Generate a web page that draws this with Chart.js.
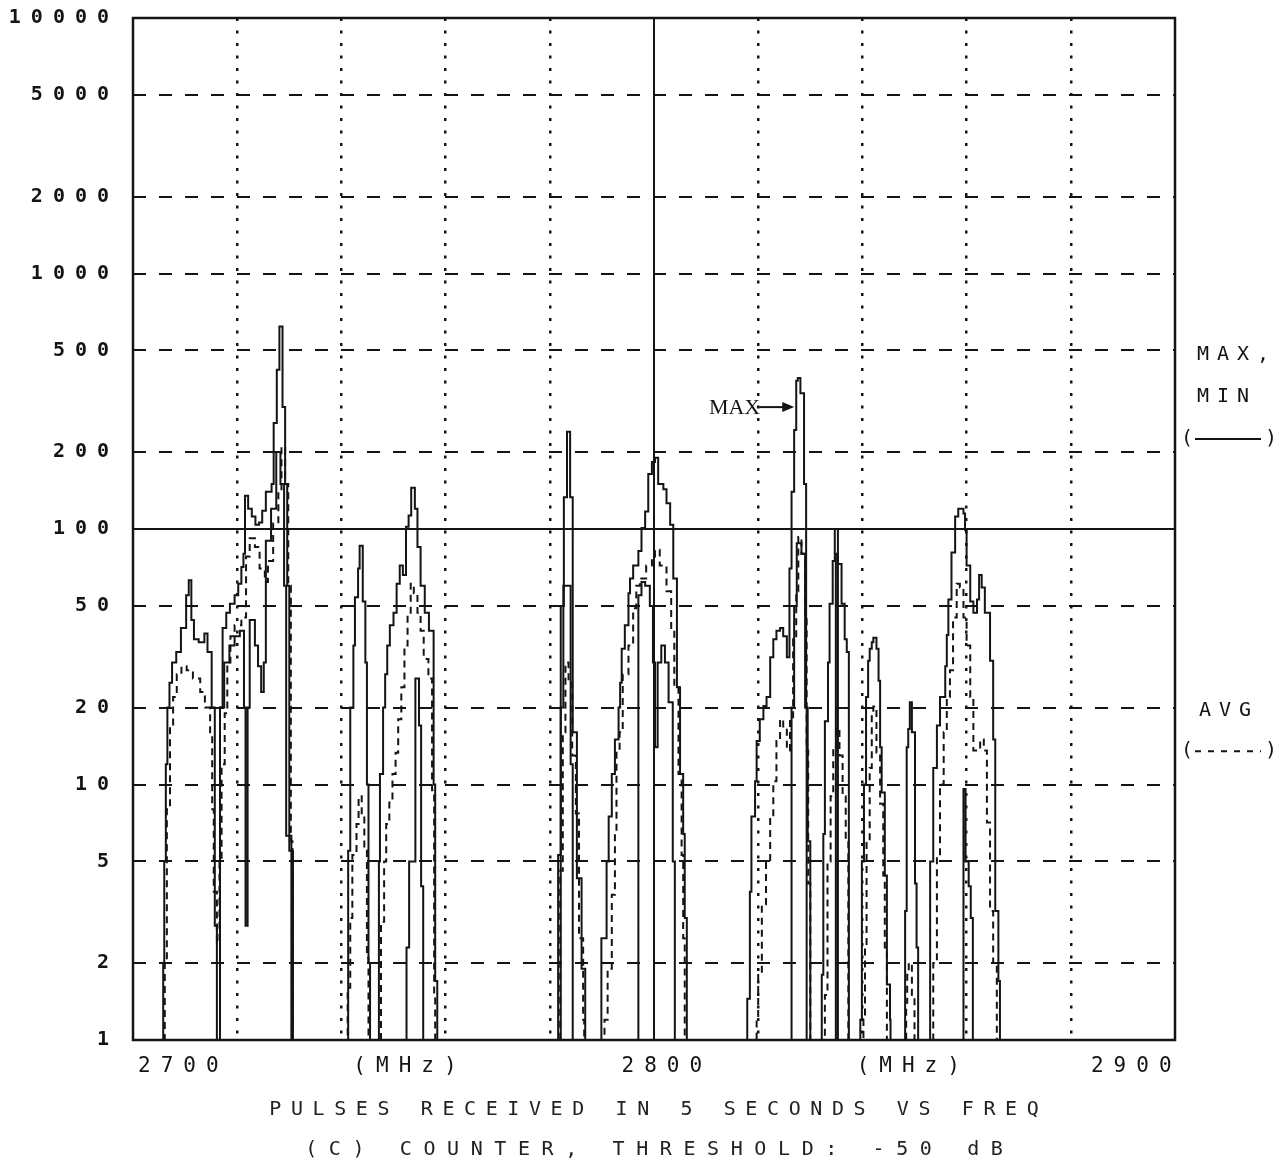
<!DOCTYPE html>
<html>
<head>
<meta charset="utf-8">
<script src="https://cdn.jsdelivr.net/npm/chart.js@4.4.0/dist/chart.umd.min.js"></script>
<style>
  html, body { margin: 0; padding: 0; background: #fff; }
  canvas { display: block; }
</style>
</head>
<body>
<canvas id="grafico" width="1288" height="1169"></canvas>
<script>
// Ejes
const yTicks = [1, 2, 5, 10, 20, 50, 100, 200, 500, 1000, 2000, 5000, 10000];
const xLabels = ['2700', '(MHz)', '2800', '(MHz)', '2900'];
const xLabelAt = [2708.7, 2752.2, 2801.5, 2848.8, 2891.6];
const titulo = ['PULSES RECEIVED IN 5 SECONDS VS FREQ', '(C) COUNTER, THRESHOLD: -50 dB'];

// Trazas [MHz, pulsos] (escalon: el valor rige desde esa frecuencia)
const maxTrace = [
  [2705.6,1],[2705.8,2],[2706.0,5],[2706.3,12],[2706.6,20],[2707.0,25],[2707.5,30],[2708.3,33],[2709.2,41],[2710.2,55],[2710.7,63],[2711.2,44],[2711.7,37],[2712.6,36],[2713.7,39],[2714.3,33],[2715.1,20],[2715.7,2.8],[2716.1,1],
  [2716.7,20],[2717.2,41],[2717.9,47],[2718.6,51],[2719.5,55],[2720.2,61],[2720.8,71],[2721.2,80],[2721.5,135],[2722.1,120],[2722.8,112],[2723.5,104],[2724.2,106],[2724.8,118],[2725.5,140],[2726.6,150],[2727.0,260],[2727.6,420],[2728.1,620],[2728.7,300],[2729.2,150],[2729.6,60],[2730.0,5.5],[2730.7,1],
  [2740.8,1],[2741.3,5.5],[2741.7,20],[2742.3,35],[2742.6,54],[2743.2,70],[2743.5,86],[2744.1,52],[2744.6,30],[2744.9,10],[2745.2,2],[2745.5,1],
  [2747.0,1],[2747.2,5],[2747.4,11],[2748.0,20],[2748.4,27],[2748.8,35],[2749.3,42],[2750.0,47],[2750.6,61],[2751.2,72],[2751.8,66],[2752.4,102],[2752.9,113],[2753.4,145],[2754.1,120],[2754.6,85],[2755.2,60],[2756.0,47],[2756.8,40],[2757.7,10],[2758.0,1.7],[2758.4,1],
  [2781.5,1],[2781.6,5.3],[2782.1,50],[2782.7,133],[2783.3,240],[2783.9,133],[2784.4,16],[2785.2,4.3],[2786.1,1.9],[2786.8,1],
  [2789.9,2.5],[2790.9,5],[2791.3,7.5],[2791.9,11],[2792.5,15],[2793.2,20],[2793.5,25],[2793.8,34],[2794.4,42],[2795.1,56],[2795.4,64],[2796.0,72],[2797.0,82],[2797.6,101],[2798.3,117],[2798.9,164],[2799.6,183],[2800.2,190],[2800.8,150],[2801.8,143],[2802.4,126],[2803.1,104],[2803.7,64],[2804.4,24],[2805.0,11],[2805.6,6.4],[2805.9,3],[2806.3,1],
  [2817.7,1],[2817.9,1.45],[2818.4,3.8],[2818.7,7.5],[2819.4,10.3],[2819.7,14.8],[2820.3,18],[2821.0,20.3],[2821.6,22],[2822.3,31.5],[2822.9,37],[2823.5,40],[2824.2,41],[2824.8,38],[2825.5,31.5],[2826.0,70],[2826.4,140],[2826.9,244],[2827.3,380],[2827.6,390],[2828.1,340],[2828.8,150],[2829.2,20],[2829.5,6],[2830.0,1],
  [2832.1,1],[2832.2,1.8],[2832.5,6.4],[2832.8,17.7],[2833.4,30],[2833.7,51],[2834.3,75],[2834.7,100],[2835.3,73],[2836.0,51],[2836.6,37],[2837.0,33],[2837.4,1],
  [2839.6,1.2],[2839.9,5],[2840.3,10],[2840.7,22],[2841.1,30.5],[2841.4,34],[2841.8,36],[2842.1,37.5],[2842.7,34],[2843.1,25.5],[2843.4,14],[2843.7,9.3],[2844.3,4.4],[2844.7,1.65],[2845.3,1.2],[2845.4,1],
  [2848.2,3.2],[2848.5,14],[2848.8,16.5],[2849.1,21],[2849.5,16],[2850.1,4.1],[2850.4,2.3],[2850.7,1],
  [2853.0,5],[2853.6,11.6],[2854.3,17],[2854.9,22],[2855.9,29],[2856.2,38.5],[2856.5,53],[2857.1,81],[2857.8,112],[2858.4,120],[2859.4,115],[2859.7,99],[2860.0,72],[2860.7,52],[2861.3,47],[2862.0,53],[2862.4,66],[2862.9,59],[2863.5,47],[2864.5,30.5],[2865.1,15],[2865.5,3.2],[2866.1,1.7],[2866.4,1]
];

const minTrace = [
  [2716.6,1],[2716.7,20],[2717.5,30],[2718.5,35],[2719.5,38],[2720.5,40],[2721.3,20],[2721.6,2.8],[2722.0,20],[2722.4,44],[2723.4,35],[2724.0,29],[2724.6,23],[2725.1,30],[2725.5,90],[2726.5,120],[2727.5,200],[2728.3,150],[2729.0,60],[2729.4,6.3],[2730.4,1],
  [2752.4,1],[2752.5,2.3],[2753.0,5],[2754.2,26],[2754.9,17],[2755.3,4],[2755.7,1],
  [2781.9,1],[2782.1,20],[2782.6,60],[2783.6,60],[2784.0,12],[2784.4,1],
  [2796.9,1],[2797.0,55],[2797.6,62],[2798.3,60],[2799.2,50],[2799.8,30],[2800.2,14],[2800.7,30],[2801.4,35],[2802.1,30],[2802.8,21],[2803.6,5],[2804.0,1],
  [2826.2,1],[2826.4,20],[2826.9,50],[2827.4,88],[2828.3,80],[2829.0,20],[2829.3,1],
  [2834.8,1],[2834.9,80],[2835.3,1],
  [2859.3,1],[2859.4,9.6],[2859.8,5],[2860.4,4],[2860.8,3],[2861.2,1]
];

const avgTrace = [
  [2705.9,1],[2706.1,2],[2706.5,8],[2707.1,17],[2707.7,22],[2708.4,27],[2709.3,29],[2710.3,28],[2711.5,26],[2712.9,23],[2713.8,20],[2714.8,16],[2715.2,8],[2715.5,3.8],[2716.1,2.4],[2716.6,5],[2717.0,12],[2717.6,19],[2718.1,30],[2718.7,38],[2719.5,42],[2720.8,45],[2721.7,78],[2722.4,92],[2723.4,85],[2724.3,70],[2725.3,62],[2725.9,75],[2726.9,105],[2727.9,140],[2728.5,210],[2729.2,150],[2729.8,60],[2730.3,6],[2730.6,1],
  [2741.0,1],[2741.2,1.6],[2741.7,3],[2742.1,5.3],[2742.9,7],[2743.3,9],[2743.9,7.5],[2744.4,5.5],[2744.9,2.1],[2745.2,1],
  [2747.4,1],[2747.6,2.9],[2748.2,5],[2748.6,7],[2749.2,8.5],[2749.8,11],[2750.4,13.3],[2750.9,18],[2751.5,24],[2752.1,35],[2752.7,47],[2753.3,61],[2753.9,56],[2754.6,47],[2755.2,40],[2755.8,31],[2756.7,26],[2757.4,9.5],[2757.8,1.5],[2758.0,1],
  [2781.8,1],[2782.0,4.6],[2782.5,16],[2783.0,30],[2783.6,25],[2784.3,13],[2785.0,7.7],[2785.6,2.5],[2786.4,1.2],[2786.6,1],
  [2790.2,1],[2790.5,1.2],[2791.1,1.9],[2791.9,3.7],[2792.5,6.4],[2792.8,13.5],[2793.4,16],[2794.0,27],[2795.1,35],[2796.0,49],[2796.6,60],[2797.3,64],[2798.5,72],[2799.6,78],[2800.2,83],[2801.1,72],[2802.4,57],[2803.3,41],[2803.9,24],[2804.7,11],[2805.3,5.3],[2805.6,2.5],[2805.9,1],
  [2819.5,1],[2819.7,1.2],[2820.0,1.85],[2820.7,3.4],[2821.5,5],[2822.3,7.5],[2822.9,10.3],[2823.5,14.8],[2824.2,18],[2824.8,16.6],[2825.5,13.6],[2826.1,18],[2826.7,37],[2827.3,57],[2827.7,93],[2828.3,80],[2829.0,45],[2829.3,13.6],[2829.6,4.1],[2830.0,1],
  [2832.6,1],[2832.8,1.5],[2833.3,5],[2833.9,9],[2834.4,14],[2835.0,16.6],[2835.6,13],[2836.2,9],[2836.8,6],[2837.3,1],
  [2840.1,1],[2840.2,1.2],[2840.5,2.3],[2840.8,6],[2841.4,11.6],[2841.8,19],[2842.1,20.2],[2842.7,13.3],[2843.4,8.4],[2844.0,4.4],[2844.3,2.3],[2844.7,1],
  [2848.3,1],[2848.4,1.4],[2848.6,1.8],[2848.9,2],[2849.5,1.5],[2850.0,1],
  [2853.4,1],[2853.6,2],[2854.3,5.2],[2854.9,10],[2855.6,16],[2856.2,22],[2856.8,28],[2857.4,45],[2858.1,61],[2858.7,59],[2859.4,45],[2860.0,35],[2860.7,22],[2861.3,13.6],[2862.0,13.6],[2862.6,15],[2863.3,13.6],[2863.9,7.1],[2864.5,3.2],[2865.1,2],[2865.8,1]
];

const tinta = '#141414';
const mono = '"DejaVu Sans Mono", "Liberation Mono", monospace';
const aPuntos = t => t.map(p => ({ x: p[0], y: p[1] }));

// texto espaciado centrado sin contar el espacio final
function textoCentrado(ctx, t, x, y, esp) {
  ctx.letterSpacing = esp + 'px';
  const w = ctx.measureText(t).width - esp;
  ctx.textAlign = 'left';
  ctx.fillText(t, x - w / 2, y);
}

const marco = {
  id: 'marco',
  beforeDraw(chart) {
    const ctx = chart.ctx;
    ctx.save();
    ctx.fillStyle = '#fff';
    ctx.fillRect(0, 0, chart.width, chart.height);
    ctx.restore();
    ctx.letterSpacing = '10px';
  },
  beforeDatasetsDraw(chart) {
    // lineas de referencia continuas (100 y 2800 MHz)
    const { ctx, chartArea: a, scales } = chart;
    ctx.save();
    ctx.strokeStyle = tinta;
    ctx.lineWidth = 2;
    const y100 = scales.y.getPixelForValue(100);
    const x2800 = scales.x.getPixelForValue(2800);
    ctx.beginPath();
    ctx.moveTo(a.left, y100); ctx.lineTo(a.right, y100);
    ctx.moveTo(x2800, a.top); ctx.lineTo(x2800, a.bottom);
    ctx.stroke();
    ctx.restore();
  },
  afterDraw(chart) {
    const { ctx, chartArea: a, scales } = chart;
    ctx.save();
    ctx.strokeStyle = tinta;
    ctx.lineWidth = 2.5;
    ctx.strokeRect(a.left, a.top, a.right - a.left, a.bottom - a.top);

    // etiquetas del eje x y titulo inferior
    ctx.fillStyle = tinta;
    ctx.textBaseline = 'middle';
    ctx.font = '21px ' + mono;
    xLabels.forEach((t, i) => {
      textoCentrado(ctx, t, scales.x.getPixelForValue(xLabelAt[i]), a.bottom + 27, 10);
    });
    ctx.fillStyle = '#222';
    ctx.font = '20px ' + mono;
    const xc = (a.left + a.right) / 2;
    textoCentrado(ctx, titulo[0], xc, a.bottom + 70, 9.6);
    textoCentrado(ctx, titulo[1], xc, a.bottom + 110, 11.6);

    // leyenda a la derecha
    ctx.fillStyle = tinta;
    ctx.textAlign = 'left';
    ctx.font = '20px ' + mono;
    ctx.letterSpacing = '8px';
    const xr = a.right + 22;
    ctx.fillText('MAX,', xr, scales.y.getPixelForValue(480));
    ctx.fillText('MIN', xr, scales.y.getPixelForValue(330));
    ctx.fillText('AVG', xr + 2, scales.y.getPixelForValue(19.5));
    ctx.letterSpacing = '0px';
    const yMin = scales.y.getPixelForValue(225);
    const yAvg = scales.y.getPixelForValue(13.5);
    ctx.fillText('(', a.right + 6, yMin);
    ctx.fillText(')', a.right + 90, yMin);
    ctx.fillText('(', a.right + 6, yAvg);
    ctx.fillText(')', a.right + 90, yAvg);
    ctx.lineWidth = 2;
    ctx.beginPath();
    ctx.moveTo(a.right + 20, yMin); ctx.lineTo(a.right + 86, yMin);
    ctx.stroke();
    ctx.setLineDash([6, 7]);
    ctx.beginPath();
    ctx.moveTo(a.right + 20, yAvg); ctx.lineTo(a.right + 86, yAvg);
    ctx.stroke();
    ctx.setLineDash([]);

    // anotacion MAX con flecha
    const yA = scales.y.getPixelForValue(300);
    const xT = scales.x.getPixelForValue(2827.3);
    ctx.font = '22px "Liberation Serif", "DejaVu Serif", serif';
    ctx.textAlign = 'right';
    ctx.fillText('MAX', xT - 36, yA + 1);
    ctx.lineWidth = 2;
    ctx.beginPath();
    ctx.moveTo(xT - 37, yA); ctx.lineTo(xT - 12, yA);
    ctx.stroke();
    ctx.beginPath();
    ctx.moveTo(xT - 2, yA); ctx.lineTo(xT - 14, yA - 5); ctx.lineTo(xT - 14, yA + 5);
    ctx.closePath();
    ctx.fill();
    ctx.restore();
  }
};

const lineaBase = {
  borderColor: tinta,
  borderWidth: 2,
  pointRadius: 0,
  stepped: true,
  tension: 0,
  fill: false
};

new Chart(document.getElementById('grafico'), {
  type: 'line',
  data: {
    datasets: [
      Object.assign({ label: 'AVG', data: aPuntos(avgTrace), borderDash: [7, 5] }, lineaBase),
      Object.assign({ label: 'MIN', data: aPuntos(minTrace) }, lineaBase),
      Object.assign({ label: 'MAX', data: aPuntos(maxTrace) }, lineaBase)
    ]
  },
  options: {
    responsive: false,
    animation: false,
    events: [],
    layout: { padding: { left: 0, right: 113, top: 18, bottom: 0 } },
    plugins: {
      legend: { display: false },
      tooltip: { enabled: false },
      title: { display: false }
    },
    scales: {
      x: {
        type: 'linear',
        min: 2700,
        max: 2900,
        ticks: { stepSize: 20, display: false },
        afterFit: s => { s.height = 129; s.paddingLeft = 0; s.paddingRight = 0; },
        grid: {
          drawTicks: false,
          lineWidth: 2.5,
          color: c => [2700, 2800, 2900].includes(c.tick.value) ? 'rgba(0,0,0,0)' : tinta
        },
        border: { display: false, dash: [3, 9.5] }
      },
      y: {
        type: 'logarithmic',
        min: 1,
        max: 10000,
        afterBuildTicks: s => { s.ticks = yTicks.map(v => ({ value: v })); },
        afterFit: s => { s.width = 133; s.paddingTop = 0; s.paddingBottom = 0; },
        ticks: {
          padding: 14,
          color: tinta,
          font: { family: mono, size: 20, weight: 'bold' },
          callback: v => String(v)
        },
        grid: {
          drawTicks: false,
          lineWidth: 2,
          color: c => [1, 100, 10000].includes(c.tick.value) ? 'rgba(0,0,0,0)' : tinta
        },
        border: { display: false, dash: [13, 13] }
      }
    }
  },
  plugins: [marco]
});
</script>
</body>
</html>
